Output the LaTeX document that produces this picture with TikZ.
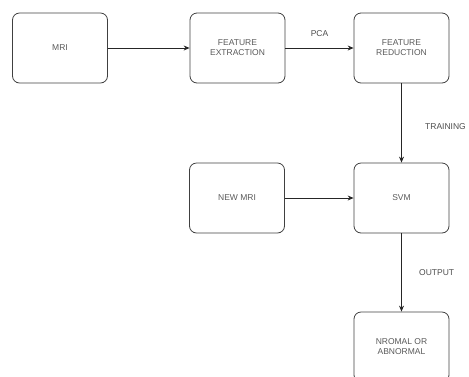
\documentclass[tikz,border=0pt]{standalone}
\usepackage{fontspec}
\setmainfont{Liberation Sans}
\usetikzlibrary{arrows.meta}

\tikzset{
  block/.style={draw=black!75, rounded corners=7pt, minimum width=95pt, minimum height=70pt,
    align=center, text=black!65, font=\fontsize{8.5}{10}\selectfont, line width=0.8pt},
  flow/.style={-{Stealth[length=6pt,width=5pt]}, line width=0.8pt, black!85},
  tag/.style={text=black!70, font=\fontsize{8.5}{10}\selectfont}
}

\begin{document}
\begin{tikzpicture}[x=1pt,y=-1pt]
	 		\useasboundingbox (0,0) rectangle (469,376);
	 		\node[block] (mri) at (60,48) {MRI};
	 		\node[block] (fext) at (237.5,48) {FEATURE\\EXTRACTION};
	 		\node[block] (fred) at (401.5,48) {FEATURE\\REDUCTION};
	 		\node[block] (newmri) at (237,198) {NEW MRI};
	 		\node[block] (svm) at (401.5,198) {SVM};
	 		\node[block] (result) at (401.5,347) {NROMAL OR\\ABNORMAL};
	 		\draw[flow] (mri) -- (fext);
	 		\draw[flow] (fext) -- (fred) node[tag, midway, above=8pt] {PCA};
	 		\draw[flow] (fred) -- (svm) node[tag, pos=0.55, right=20pt] {TRAINING};
	 		\draw[flow] (newmri) -- (svm);
	 		\draw[flow] (svm) -- (result) node[tag, pos=0.5, right=14pt] {OUTPUT};
	 	\end{tikzpicture}
\end{document}
